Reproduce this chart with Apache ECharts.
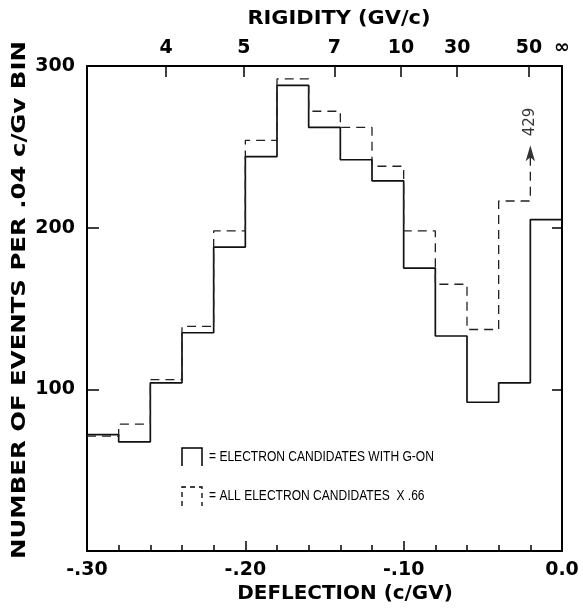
<!DOCTYPE html>
<html>
<head>
<meta charset="utf-8">
<script src="https://cdn.jsdelivr.net/npm/echarts@6/dist/echarts.min.js"></script>
<style>
  html, body { margin: 0; padding: 0; background: #fff; }
  #main { width: 583px; height: 610px; }
</style>
</head>
<body>
<div id="main"></div>
<script>
// left edge of each .02 c/GV deflection bin
const binLeft = [-0.30, -0.28, -0.26, -0.24, -0.22, -0.20, -0.18, -0.16, -0.14, -0.12, -0.10, -0.08, -0.06, -0.04, -0.02];
const binWidth = 0.02;
// electron candidates with G-on
const gOnCounts = [72, 67.5, 104, 135, 188, 244, 288, 262, 242, 229, 175, 133, 92, 104, 205];
// all electron candidates x .66 (last bin is off scale)
const allCounts = [71, 78.5, 106, 139, 198, 254, 292, 272, 262, 238, 198, 165, 137, 216.5, 429];
// rigidity scale along the top
const rigidityLabels = ['4', '5', '7', '10', '30', '50', '\u221E'];
const rigidityPos = [-0.25, -0.201, -0.1437, -0.1017, -0.0662, -0.0208, 0];
const yTicks = [100, 200, 300];

const yMax = 300;
const arrowAt = 251; // where the off-scale arrow is drawn

// build histogram outline points
function stepPoints(counts, n) {
  const pts = [];
  for (let i = 0; i < n; i++) {
    pts.push([binLeft[i], counts[i]]);
    pts.push([+(binLeft[i] + binWidth).toFixed(2), counts[i]]);
  }
  return pts;
}
const solidPts = stepPoints(gOnCounts, gOnCounts.length);
// dashed: in-range bins, then the rise to the arrow
const lastIdx = allCounts.length - 1;
const dashedPts = stepPoints(allCounts, lastIdx);
dashedPts.push([binLeft[lastIdx], arrowAt - 6]);

const chart = echarts.init(document.getElementById('main'));
const bold = 'DejaVu Sans';
const axisLine = { show: true, onZero: false, lineStyle: { color: '#000', width: 2 } };

const option = {
  animation: false,
  grid: { left: 87, right: 21, top: 66, bottom: 59 },
  xAxis: [
    {
      type: 'value', position: 'bottom', min: -0.3, max: 0, interval: 0.1,
      axisLine: axisLine,
      axisTick: { show: true, inside: true, length: 10, lineStyle: { color: '#000', width: 1.5 } },
      minorTick: { show: true, splitNumber: 5, length: 6, lineStyle: { color: '#000', width: 1.5 } },
      splitLine: { show: false },
      axisLabel: {
        margin: 10, color: '#000', fontFamily: bold, fontWeight: 'bold', fontSize: 19,
        formatter: v => Math.abs(v) < 1e-9 ? '0.0' : '-' + Math.abs(v).toFixed(2).slice(1)
      }
    },
    {
      type: 'value', position: 'top', min: -0.3, max: 0,
      axisLine: axisLine,
      axisTick: { show: true, inside: true, length: 11, customValues: rigidityPos.slice(0, -1), lineStyle: { color: '#000', width: 1.5 } },
      splitLine: { show: false },
      axisLabel: {
        margin: 8, color: '#000', fontFamily: bold, fontWeight: 'bold', fontSize: 19,
        customValues: rigidityPos,
        formatter: v => {
          const i = rigidityPos.findIndex(p => Math.abs(p - v) < 1e-6);
          return i >= 0 ? rigidityLabels[i] : '';
        }
      }
    }
  ],
  yAxis: [
    {
      type: 'value', position: 'left', min: 0, max: yMax, interval: 100,
      axisLine: axisLine,
      axisTick: { show: true, inside: true, length: 12, customValues: yTicks, lineStyle: { color: '#000', width: 1.5 } },
      splitLine: { show: false },
      axisLabel: {
        margin: 12, color: '#000', fontFamily: bold, fontWeight: 'bold', fontSize: 19,
        customValues: yTicks
      }
    },
    {
      type: 'value', position: 'right', min: 0, max: yMax, interval: 100,
      axisLine: axisLine,
      axisTick: { show: true, inside: true, length: 10, customValues: yTicks, lineStyle: { color: '#000', width: 1.5 } },
      splitLine: { show: false },
      axisLabel: { show: false }
    }
  ],
  series: [
    {
      name: 'G-ON', type: 'line', data: solidPts, symbol: 'none',
      lineStyle: { color: '#111', width: 1.7 }
    },
    {
      name: 'ALL x .66', type: 'line', data: dashedPts, symbol: 'none',
      lineStyle: { color: '#222', width: 1.3, type: [9, 6] }
    },
    {
      name: 'off scale', type: 'scatter',
      data: [[binLeft[lastIdx], arrowAt]],
      symbol: 'arrow', symbolSize: [7, 16],
      itemStyle: { color: '#000' },
      label: {
        show: true, position: 'top', distance: 9, rotate: 90,
        align: 'left', verticalAlign: 'middle',
        formatter: () => String(allCounts[lastIdx]),
        color: '#000', fontFamily: 'DejaVu Sans', fontSize: 15
      }
    }
  ],
  graphic: [
    {
      type: 'text', x: 339, y: 19, scaleX: 1.1,
      style: { text: 'RIGIDITY (GV/c)', fill: '#000', font: 'bold 19px "DejaVu Sans"', align: 'center', verticalAlign: 'middle' }
    },
    {
      type: 'text', x: 345, y: 594, scaleX: 1.05,
      style: { text: 'DEFLECTION (c/GV)', fill: '#000', font: 'bold 19px "DejaVu Sans"', align: 'center', verticalAlign: 'middle' }
    },
    {
      type: 'text', x: 20, y: 300, rotation: Math.PI / 2, scaleX: 1.22,
      style: {
        text: 'NUMBER OF EVENTS PER .04 c/Gv BIN', fill: '#000',
        font: 'bold 20px "DejaVu Sans"', align: 'center', verticalAlign: 'middle'
      }
    },
    // legend keys
    {
      type: 'polyline',
      shape: { points: [[182, 466], [182, 448], [202, 448], [202, 466]] },
      style: { stroke: '#000', lineWidth: 1.5, fill: null }
    },
    {
      type: 'polyline',
      shape: { points: [[182, 506], [182, 487], [202, 487], [202, 506]] },
      style: { stroke: '#000', lineWidth: 1.3, fill: null, lineDash: [5, 4] }
    },
    {
      type: 'text', x: 209, y: 457, scaleX: 0.86,
      style: { text: '= ELECTRON CANDIDATES WITH G-ON', fill: '#000', font: '14px "Liberation Sans"', verticalAlign: 'middle' }
    },
    {
      type: 'text', x: 209, y: 496, scaleX: 0.86,
      style: { text: '= ALL ELECTRON CANDIDATES  X .66', fill: '#000', font: '14px "Liberation Sans"', verticalAlign: 'middle' }
    }
  ]
};

chart.setOption(option);
</script>
</body>
</html>
